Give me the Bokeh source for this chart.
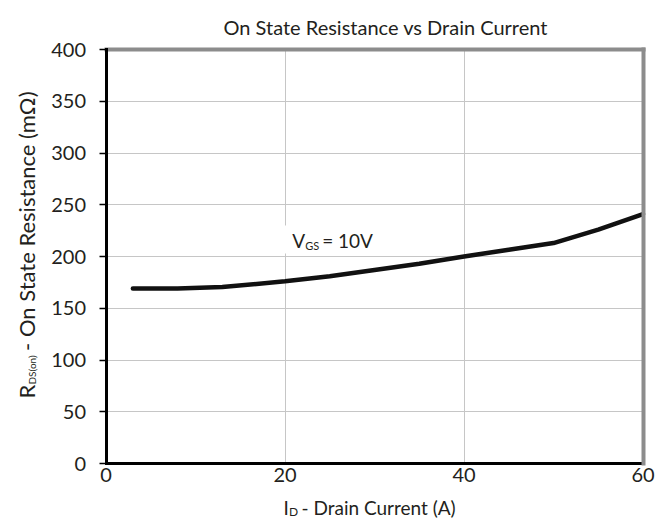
import math
from bokeh.plotting import figure
from bokeh.models import Label, FixedTicker, Range1d, LinearAxis, BoxAnnotation
from bokeh.embed import file_html
from bokeh.resources import INLINE

# ---- data ----
drain_current = [3, 8, 13, 20, 25, 30, 35, 40, 45, 50, 55, 60]
rds_on = [169, 169, 170.5, 176, 181, 187, 193, 200, 206.5, 213, 226, 241]
x_ticks = [0, 20, 40, 60]
y_ticks = [0, 50, 100, 150, 200, 250, 300, 350, 400]
title_text = "On State Resistance vs Drain Current"
annot_x = 20.8
annot_y = 215.5

# ---- layout (pixels) ----
W, H = 660, 519
X0_PX, XMAX_PX = 105.5, 642.5      # where x = 0 and x = 60 fall
YMAX_PX, Y0_PX = 49.0, 463.0       # where y = 400 and y = 0 fall
FONT = "Lato"
TXT = "#231f20"

xmin, xmax = x_ticks[0], x_ticks[-1]
ymin, ymax = y_ticks[0], y_ticks[-1]
kx = (XMAX_PX - X0_PX) / (xmax - xmin)
ky = (Y0_PX - YMAX_PX) / (ymax - ymin)

p = figure(width=W, height=H, output_backend="svg", toolbar_location=None,
           x_range=Range1d(xmin - X0_PX / kx, xmax + (W - XMAX_PX) / kx),
           y_range=Range1d(ymin - (H - Y0_PX) / ky, ymax + YMAX_PX / ky),
           min_border_left=0, min_border_right=0, min_border_top=0, min_border_bottom=0)
p.title.visible = False
p.outline_line_color = None
p.background_fill_color = "white"
p.border_fill_color = "white"

# ---- grid ----
xg, yg = p.xgrid[0], p.ygrid[0]
xg.ticker = FixedTicker(ticks=x_ticks)
yg.ticker = FixedTicker(ticks=y_ticks)
if "cross_bounds" in xg.properties():
    xg.cross_bounds = (ymin, ymax)
    yg.cross_bounds = (xmin, xmax)
    for g in (xg, yg):
        g.grid_line_color = "#c6c6c6"
        g.grid_line_width = 1
else:
    xg.visible = False
    yg.visible = False
    p.segment(x0=x_ticks, y0=[ymin] * len(x_ticks), x1=x_ticks, y1=[ymax] * len(x_ticks),
              line_color="#c6c6c6", line_width=1, level="underlay")
    p.segment(x0=[xmin] * len(y_ticks), y0=y_ticks, x1=[xmax] * len(y_ticks), y1=y_ticks,
              line_color="#c6c6c6", line_width=1, level="underlay")

# ---- axes (fixed at the data box edges) ----
p.xaxis.fixed_location = ymin
p.yaxis.fixed_location = xmin
p.xaxis.bounds = (xmin, xmax)
p.yaxis.bounds = (ymin, ymax)
p.xaxis.ticker = FixedTicker(ticks=x_ticks)
p.yaxis.ticker = FixedTicker(ticks=y_ticks)
for ax in (p.xaxis, p.yaxis):
    ax.axis_line_color = "black"
    ax.axis_line_width = 3
    ax.axis_line_cap = "square"
    ax.major_label_text_font = FONT
    ax.major_label_text_font_size = "20px"
    ax.major_label_text_color = TXT
    ax.minor_tick_line_color = None
    ax.major_tick_line_color = "black"
    ax.major_tick_line_width = 1.5
    ax.major_tick_in = 0
p.yaxis.major_tick_out = 7
p.yaxis.major_label_standoff = 13
p.xaxis.major_tick_out = 0
p.xaxis.major_label_standoff = 4

# gray top / right frame edges
top_edge = LinearAxis(fixed_location=ymax, bounds=(xmin, xmax), ticker=FixedTicker(ticks=[]),
                      axis_line_color="#8c8c8c", axis_line_width=4, axis_line_cap="square",
                      major_tick_line_color=None, minor_tick_line_color=None,
                      major_label_text_font_size="0px")
right_edge = LinearAxis(fixed_location=xmax, bounds=(ymin, ymax), ticker=FixedTicker(ticks=[]),
                        axis_line_color="#8c8c8c", axis_line_width=4, axis_line_cap="square",
                        major_tick_line_color=None, minor_tick_line_color=None,
                        major_label_text_font_size="0px")
p.add_layout(top_edge, "above")
p.add_layout(right_edge, "right")

# ---- curve ----
p.line(drain_current, rds_on, line_color="#111111", line_width=4.5,
       line_join="round", line_cap="round")


def lab(text, x, y, size, **kw):
    return Label(x=x, y=H - y, x_units="screen", y_units="screen", text=text,
                 text_font=FONT, text_font_size=size, text_color=TXT,
                 text_baseline="alphabetic", **kw)


# ---- title ----
p.add_layout(lab(title_text, 223, 26.7, "20px", text_align="left"))

# ---- y axis label with subscript (rotated) ----
rot = math.pi / 2
p.add_layout(lab("R", 26, 398, "22px", angle=rot, text_align="left"))
p.add_layout(lab("DS(on)", 31, 384, "10px", angle=rot, text_align="left"))
p.add_layout(lab("- On State Resistance (m\u03a9)", 26, 91, "22px", angle=rot, text_align="right"))

# ---- x axis label with subscript ----
p.add_layout(lab("I", 283, 507, "19px", text_align="left"))
p.add_layout(lab("D", 288.5, 511, "12px", text_align="left"))
p.add_layout(lab("- Drain Current (A)", 301, 507, "19px", text_align="left"))

# ---- V_GS annotation on a white patch ----
p.add_layout(BoxAnnotation(left=annot_x - 1.65, right=annot_x + 9.0,
                           bottom=annot_y - 12.5, top=annot_y + 14.5,
                           fill_color="white", fill_alpha=1.0, line_color=None))
p.add_layout(Label(x=annot_x, y=annot_y, text="V", text_font=FONT, text_font_size="19px",
                   text_color=TXT, text_baseline="alphabetic"))
p.add_layout(Label(x=annot_x, y=annot_y, x_offset=13, y_offset=-5, text="GS", text_font=FONT,
                   text_font_size="11px", text_color=TXT, text_baseline="alphabetic"))
p.add_layout(Label(x=annot_x, y=annot_y, x_offset=30, text="= 10V", text_font=FONT,
                   text_font_size="19px", text_color=TXT, text_baseline="alphabetic"))

open("out.html", "w").write(file_html(p, INLINE))
